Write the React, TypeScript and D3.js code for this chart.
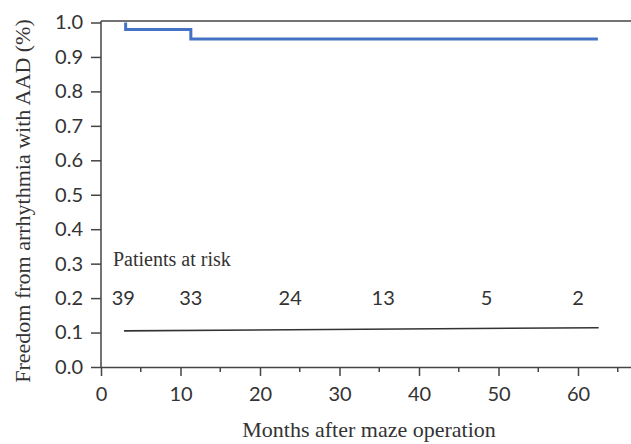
import React, { useEffect, useRef } from "react";
import * as d3 from "d3";

// KM curve (months, freedom)
const kmTimes = [3.1, 3.1, 11.3, 62.5];
const kmValues = [1.0, 0.98, 0.952, 0.952];

// thin reference line near the bottom
const baseTimes = [2.9, 62.6];
const baseValues = [0.105, 0.114];

// patients at risk
const riskTimes = [2.8, 11.3, 23.8, 35.5, 48.5, 60];
const riskCounts = ["39", "33", "24", "13", "5", "2"];

const xTicks = [0, 10, 20, 30, 40, 50, 60];
const xMinor = [5, 15, 25, 35, 45, 55, 65];
const yTicks = [0, 0.1, 0.2, 0.3, 0.4, 0.5, 0.6, 0.7, 0.8, 0.9, 1.0];

const SANS = "Lato, 'Open Sans', sans-serif";
const SERIF = "'Liberation Serif', 'DejaVu Serif', serif";

function KaplanMeier() {
  const ref = useRef<SVGSVGElement>(null);

  useEffect(() => {
    const svg = d3.select(ref.current);
    svg.selectAll("*").remove();

    const x = d3.scaleLinear().domain([0, 67]).range([101, 101 + 7.95 * 67]);
    const y = d3.scaleLinear().domain([0, 1]).range([367, 22.5]);
    const axisColor = "#444";
    const textColor = "#333";

    // top border
    svg.append("line")
      .attr("x1", x(0)).attr("x2", 631)
      .attr("y1", 21).attr("y2", 21)
      .attr("stroke", axisColor).attr("stroke-width", 1.5);

    // y axis
    const yAxis = d3.axisLeft(y)
      .tickValues(yTicks)
      .tickSize(10)
      .tickPadding(8)
      .tickSizeOuter(0)
      .tickFormat(d3.format(".1f"));
    const gy = svg.append("g").attr("transform", `translate(${x(0)},0)`).call(yAxis);
    gy.select(".domain").attr("stroke", axisColor).attr("stroke-width", 1.5).attr("d", `M0,${y(0)}V21`);
    gy.selectAll(".tick line").attr("stroke", axisColor).attr("stroke-width", 1.5);
    gy.selectAll(".tick text")
      .attr("fill", textColor)
      .style("font-family", SANS)
      .style("font-size", "20px");

    // x axis
    const xAxis = d3.axisBottom(x).tickValues(xTicks).tickSize(9).tickPadding(11).tickSizeOuter(0);
    const gx = svg.append("g").attr("transform", `translate(0,${y(0)})`).call(xAxis);
    gx.select(".domain").attr("stroke", axisColor).attr("stroke-width", 1.5);
    gx.selectAll(".tick line").attr("stroke", axisColor).attr("stroke-width", 1.5);
    gx.selectAll(".tick text")
      .attr("fill", textColor)
      .style("font-family", SANS)
      .style("font-size", "20px");

    svg.append("g")
      .selectAll("line")
      .data(xMinor)
      .join("line")
      .attr("x1", (d) => x(d)).attr("x2", (d) => x(d))
      .attr("y1", y(0)).attr("y2", y(0) + 5)
      .attr("stroke", axisColor).attr("stroke-width", 1.5);

    // KM step curve
    const km = kmTimes.map((t, i) => [t, kmValues[i]] as [number, number]);
    svg.append("path")
      .datum(km)
      .attr("fill", "none")
      .attr("stroke", "#4472c4")
      .attr("stroke-width", 3)
      .attr("d", d3.line<[number, number]>().x((d) => x(d[0])).y((d) => y(d[1])).curve(d3.curveStepAfter));

    // bottom thin line
    const base = baseTimes.map((t, i) => [t, baseValues[i]] as [number, number]);
    svg.append("path")
      .datum(base)
      .attr("fill", "none")
      .attr("stroke", "#333")
      .attr("stroke-width", 1.6)
      .attr("d", d3.line<[number, number]>().x((d) => x(d[0])).y((d) => y(d[1])));

    // patients at risk
    svg.append("text")
      .attr("x", 113).attr("y", 266)
      .attr("fill", textColor)
      .style("font-family", SERIF)
      .style("font-size", "20px")
      .text("Patients at risk");

    svg.append("g")
      .selectAll("text")
      .data(riskCounts)
      .join("text")
      .attr("x", (_d, i) => x(riskTimes[i]))
      .attr("y", 305)
      .attr("text-anchor", "middle")
      .attr("fill", textColor)
      .style("font-family", SANS)
      .style("font-size", "20px")
      .text((d) => d);

    // axis titles
    svg.append("text")
      .attr("x", 369).attr("y", 437)
      .attr("text-anchor", "middle")
      .attr("fill", textColor)
      .style("font-family", SERIF)
      .style("font-size", "22px")
      .text("Months after maze operation");

    svg.append("text")
      .attr("transform", "translate(30,201) rotate(-90)")
      .attr("text-anchor", "middle")
      .attr("fill", textColor)
      .style("font-family", SERIF)
      .style("font-size", "22px")
      .text("Freedom from arrhythmia with AAD (%)");
  }, []);

  return (
    <svg
      ref={ref}
      width={631}
      height={444}
      style={{ position: "absolute", left: 0, top: 0, background: "#fff" }}
    />
  );
}

export default function App() {
  return <KaplanMeier />;
}
